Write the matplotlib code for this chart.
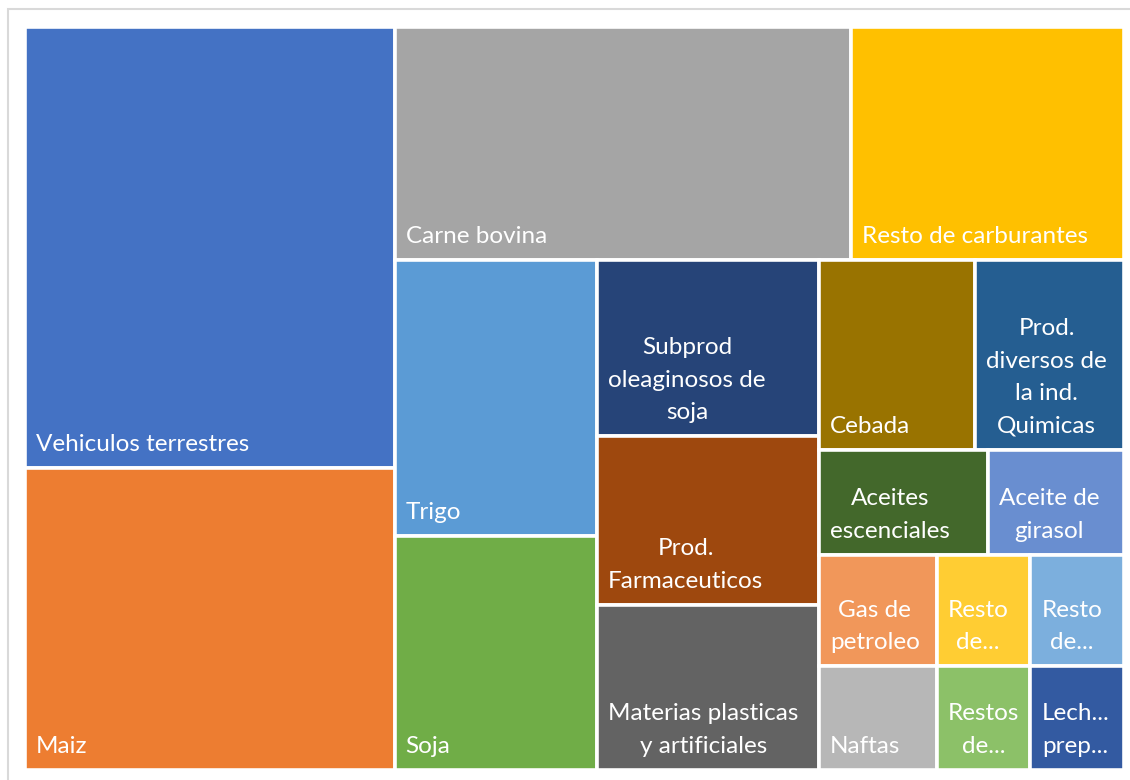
import matplotlib
matplotlib.use("Agg")
import matplotlib.pyplot as plt
from matplotlib.patches import Rectangle

# --- datos (valores estimados a partir de la imagen) ---
labels = [
    "Vehiculos terrestres", "Maiz", "Carne bovina", "Resto de carburantes",
    "Trigo", "Soja", "Subprod\noleaginosos de\nsoja", "Prod.\nFarmaceuticos",
    "Materias plasticas\ny artificiales", "Cebada",
    "Prod.\ndiversos de\nla ind.\nQuimicas", "Aceites\nescenciales",
    "Aceite de\ngirasol", "Gas de\npetroleo", "Naftas", "Resto\nde...",
    "Resto\nde...", "Restos\nde...", "Lech...\nprep...",
]
values = [1624, 1114, 1062, 634, 556, 473, 389, 373, 365, 296,
          281, 177, 142, 131, 122, 104, 104, 97, 97]
colors = [
    "#4472C4", "#ED7D31", "#A5A5A5", "#FFC000", "#5B9BD5", "#70AD47",
    "#264478", "#9E480E", "#636363", "#997300", "#255E91", "#43682B",
    "#698ED0", "#F1975A", "#B7B7B7", "#FFCD33", "#7CAFDD", "#8CC168",
    "#335AA1",
]

FIG_W, FIG_H = 1130, 780
AX_L, AX_T, AX_R, AX_B = 25, 27, 1124, 770
W, H = AX_R - AX_L, AX_B - AX_T


def squarify(vals, x, y, w, h):
    """Squarified layout: grow each strip while the newest cell gets squarer."""
    total = sum(vals)
    areas = [v * w * h / total for v in vals]
    rects = []
    i = 0
    while i < len(areas):
        if i == len(areas) - 1:
            rects.append((x, y, w, h))
            break
        vertical = w >= h
        side = h if vertical else w

        def last_ratio(row):
            thick = sum(row) / side
            length = row[-1] / thick
            return max(thick / length, length / thick)

        row = [areas[i]]
        cur = last_ratio(row)
        j = i + 1
        while j < len(areas):
            nr = last_ratio(row + [areas[j]])
            if nr > cur:
                break
            row.append(areas[j])
            cur = nr
            j += 1
        thick = sum(row) / side
        pos = 0.0
        for a in row:
            length = a / thick
            if vertical:
                rects.append((x, y + pos, thick, length))
            else:
                rects.append((x + pos, y, length, thick))
            pos += length
        if vertical:
            x += thick
            w -= thick
        else:
            y += thick
            h -= thick
        i = j
    return rects


fig = plt.figure(figsize=(FIG_W / 100, FIG_H / 100), dpi=100)
ax = fig.add_axes([AX_L / FIG_W, 1 - AX_B / FIG_H, W / FIG_W, H / FIG_H])
ax.set_xlim(0, W)
ax.set_ylim(H, 0)
ax.axis("off")

# marco gris del área del gráfico
fig.add_artist(Rectangle((8 / FIG_W, -0.05), 1.2, 1 - 9 / FIG_H + 0.05,
                         transform=fig.transFigure, fill=False,
                         edgecolor="#D9D9D9", lw=1.5))

for (rx, ry, rw, rh), lab, col in zip(squarify(values, 0, 0, W, H), labels, colors):
    ax.add_patch(Rectangle((rx, ry), rw, rh, facecolor=col,
                           edgecolor="white", lw=2.6))
    ax.annotate(lab, xy=(rx, ry + rh), xytext=(11, 17),
                textcoords="offset pixels", ha="left", va="baseline",
                multialignment="center", color="white", fontsize=17.5,
                family=["Lato", "DejaVu Sans"], linespacing=1.68)

fig.savefig("out.png", dpi=100)
